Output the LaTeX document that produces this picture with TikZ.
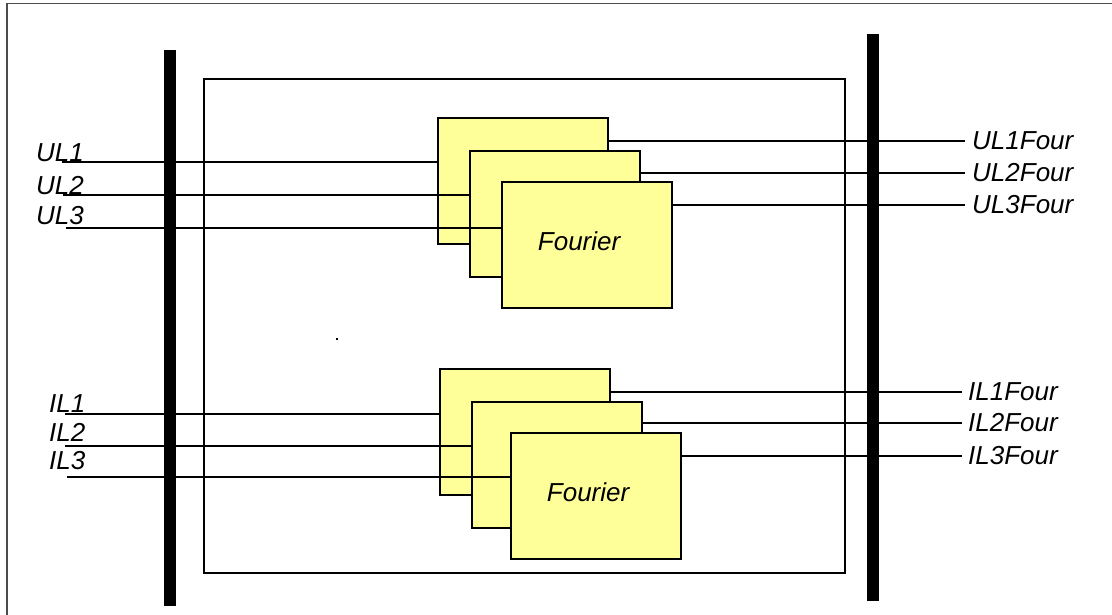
\documentclass[tikz,border=0pt]{standalone}
\usepackage{fontspec}
\setmainfont{Liberation Sans}
\usetikzlibrary{positioning, calc}
\definecolor{boxyellow}{RGB}{255,255,153}

\begin{document}
\begin{tikzpicture}[x=1pt, y=-1pt,
        fourier/.style={draw, line width=2.2pt, fill=boxyellow, minimum width=170pt,
            minimum height=126pt, inner sep=0pt, anchor=north west},
        wire/.style={line width=1.4pt},
        lbl/.style={font=\itshape\fontsize{26}{30}\selectfont, inner sep=0pt}]
            \useasboundingbox (0,0) rectangle (1112,615);
            \clip (0,0) rectangle (1112,615);

            % frame, block and the two bars
            \draw[black!70, line width=1.5pt] (7,3.5) rectangle (1130,630);
            \draw[line width=2.2pt] (204,79) rectangle (845,573);
            \fill[black] (164,50) rectangle (176,606);
            \fill[black] (867,34) rectangle (879,601);
            \fill[black] (336,338) rectangle (338,340);

            % voltage transforms
            \node[fourier] (U1) at (437,117) {};
            \node[fourier] (U2) at (469,150) {};
            \node[fourier] (U3) at (501,181) {};
            \node[lbl] (Uf) at ([xshift=-8pt, yshift=4pt]U3.center) {Fourier};

            % current transforms
            \node[fourier] (I1) at (439,368) {};
            \node[fourier] (I2) at (471,401) {};
            \node[fourier] (I3) at (510,432) {};
            \node[lbl] (If) at ([xshift=-8pt, yshift=4pt]I3.center) {Fourier};

            % inputs
            \coordinate (ul1) at (62,162);
            \coordinate (ul2) at (63,195);
            \coordinate (ul3) at (66,228);
            \coordinate (il1) at (65,414);
            \coordinate (il2) at (65,446);
            \coordinate (il3) at (67,477);
            \node[lbl, anchor=base west] (UL1) at (36,162) {UL1};
            \node[lbl, anchor=base west] (UL2) at (36,194) {UL2};
            \node[lbl, anchor=base west] (UL3) at (36,225) {UL3};
            \node[lbl, anchor=base west] (IL1) at (49,412) {IL1};
            \node[lbl, anchor=base west] (IL2) at (49,441) {IL2};
            \node[lbl, anchor=base west] (IL3) at (49,469) {IL3};
            \draw[wire] (ul1) -- (ul1 -| U1.west);
            \draw[wire] (ul2) -- (ul2 -| U2.west);
            \draw[wire] (ul3) -- (ul3 -| U3.west);
            \draw[wire] (il1) -- (il1 -| I1.west);
            \draw[wire] (il2) -- (il2 -| I2.west);
            \draw[wire] (il3) -- (il3 -| I3.west);

            % outputs
            \coordinate (uo1) at (965,141);
            \coordinate (uo2) at (965,173);
            \coordinate (uo3) at (965,205);
            \coordinate (io1) at (962,392);
            \coordinate (io2) at (962,423);
            \coordinate (io3) at (962,456);
            \node[lbl, right=7pt of uo1] (UL1Four) {UL1Four};
            \node[lbl, right=7pt of uo2] (UL2Four) {UL2Four};
            \node[lbl, right=7pt of uo3] (UL3Four) {UL3Four};
            \node[lbl, right=6pt of io1] (IL1Four) {IL1Four};
            \node[lbl, right=6pt of io2] (IL2Four) {IL2Four};
            \node[lbl, right=6pt of io3] (IL3Four) {IL3Four};
            \draw[wire] (uo1 -| U1.east) -- (uo1);
            \draw[wire] (uo2 -| U2.east) -- (uo2);
            \draw[wire] (uo3 -| U3.east) -- (uo3);
            \draw[wire] (io1 -| I1.east) -- (io1);
            \draw[wire] (io2 -| I2.east) -- (io2);
            \draw[wire] (io3 -| I3.east) -- (io3);
        \end{tikzpicture}
\end{document}
